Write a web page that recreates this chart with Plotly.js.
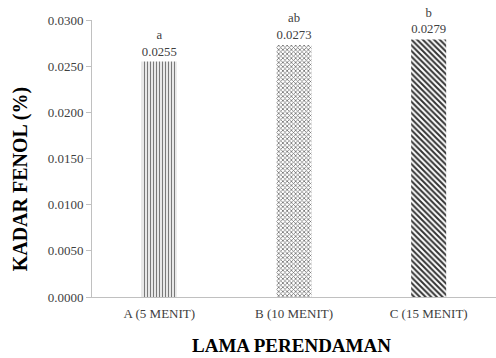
<!DOCTYPE html>
<html><head><meta charset="utf-8">
<script src="https://cdn.plot.ly/plotly-3.0.1.min.js"></script>
<style>body{margin:0;background:#fff}#chart{width:496px;height:358px}</style>
</head><body><div id="chart"></div>
<script>
const categories = ["A (5 MENIT)", "B (10 MENIT)", "C (15 MENIT)"];
const values = [0.0255, 0.0273, 0.0279];
const letters = ["a", "ab", "b"];
const yTicks = [0, 0.005, 0.01, 0.015, 0.02, 0.025, 0.03];
const xTitle = "LAMA PERENDAMAN";
const yTitle = "KADAR FENOL (%)";

const SERIF = "'Liberation Serif', 'Times New Roman', serif";

const trace = {
  type: "bar",
  x: categories,
  y: values,
  customdata: letters,
  texttemplate: "%{customdata}<br>%{y:.4f}",
  textposition: "outside",
  cliponaxis: false,
  textfont: {family: SERIF, size: 13, color: "#404040"},
  marker: {
    color: "#ffffff",
    line: {width: 0},
    pattern: {
      shape: ["|", "x", "\\"],
      fgcolor: ["#7a7a7a", "#707070", "#333333"],
      bgcolor: "#ffffff",
      size: [3, 3, 4],
      solidity: [0.45, 0.45, 0.5]
    }
  },
  width: 0.26,
  hoverinfo: "none"
};

const layout = {
  width: 496, height: 358,
  margin: {l: 92, r: 0, t: 20, b: 61},
  paper_bgcolor: "#fff", plot_bgcolor: "#fff",
  showlegend: false,
  font: {family: SERIF, color: "#404040", size: 13},
  xaxis: {
    showline: true, linecolor: "#c0c0c0", linewidth: 1,
    ticks: "", showgrid: false, zeroline: false,
    tickfont: {family: SERIF, size: 13, color: "#404040"},
    ticklabelstandoff: 4
  },
  yaxis: {
    range: [0, 0.03], tickvals: yTicks, tickformat: ".4f",
    showline: true, linecolor: "#c0c0c0", linewidth: 1,
    ticks: "outside", ticklen: 5, tickcolor: "#c0c0c0",
    showgrid: false, zeroline: false,
    tickfont: {family: SERIF, size: 13, color: "#404040"}
  },
  annotations: [
    {text: "<b>" + xTitle + "</b>", xref: "paper", yref: "paper", x: 0.493, y: -0.176,
     xanchor: "center", yanchor: "middle", showarrow: false,
     font: {family: SERIF, size: 19, color: "#000"}},
    {text: "<b>" + yTitle + "</b>", xref: "paper", yref: "paper", x: -0.178, y: 0.425,
     xanchor: "center", yanchor: "middle", showarrow: false, textangle: -90,
     font: {family: SERIF, size: 20, color: "#000"}}
  ]
};

Plotly.newPlot("chart", [trace], layout, {staticPlot: true, displayModeBar: false});
</script></body></html>
